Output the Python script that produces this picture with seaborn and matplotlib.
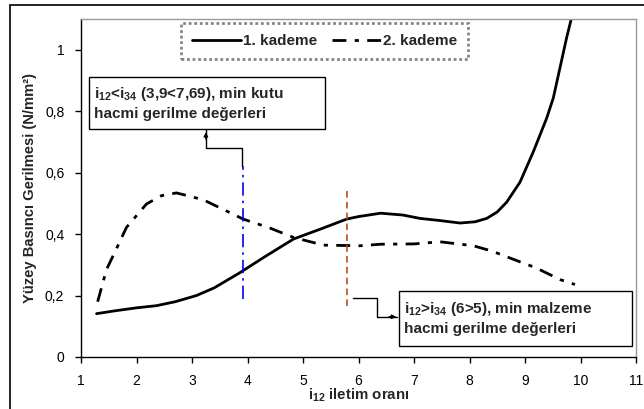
import matplotlib
matplotlib.use("Agg")
import matplotlib.pyplot as plt
import seaborn as sns
import pandas as pd
from matplotlib.patches import Rectangle

# ---- data ----
x_k1 = [1.28, 1.6, 2.0, 2.36, 2.7, 3.08, 3.4, 3.86, 4.3, 4.83, 5.31, 5.79, 6.0, 6.4, 6.8, 7.11, 7.47, 7.83,
        8.1, 8.31, 8.5, 8.67, 8.91, 9.15, 9.39, 9.51, 9.63, 9.75, 9.84, 9.9]
y_k1 = [0.141, 0.15, 0.16, 0.167, 0.18, 0.20, 0.225, 0.274, 0.325, 0.384, 0.416, 0.449, 0.457, 0.468, 0.462,
        0.451, 0.444, 0.436, 0.44, 0.451, 0.472, 0.504, 0.569, 0.668, 0.777, 0.843, 0.941, 1.039, 1.105, 1.15]
x_k2 = [1.3, 1.46, 1.58, 1.82, 2.18, 2.45, 2.72, 3.2, 3.92, 4.4, 4.83, 5.37, 6.03, 6.4, 7.0, 7.47, 8.07, 8.4,
        8.79, 9.2, 9.63, 9.9]
y_k2 = [0.18, 0.285, 0.33, 0.422, 0.498, 0.525, 0.534, 0.512, 0.449, 0.42, 0.389, 0.364, 0.362, 0.367, 0.368,
        0.375, 0.362, 0.345, 0.318, 0.29, 0.252, 0.236]
series_names = ["1. kademe", "2. kademe"]
vline_blue_x = [3.92, 3.92]
vline_blue_y = [0.19, 0.62]
vline_brown_x = [5.79, 5.79]
vline_brown_y = [0.165, 0.542]
x_ticks = [1, 2, 3, 4, 5, 6, 7, 8, 9, 10, 11]
y_ticks = [0, 0.2, 0.4, 0.6, 0.8, 1.0]
y_tick_labels = ["0", "0,2", "0,4", "0,6", "0,8", "1"]
note1 = "i$_{12}$<i$_{34}$ (3,9<7,69), min kutu\nhacmi gerilme değerleri"
note2 = "i$_{12}$>i$_{34}$ (6>5), min malzeme\nhacmi gerilme değerleri"
x_label = "i$_{12}$ iletim oranı"
y_label = "Yüzey Basıncı Gerilmesi (N/mm²)"

sns.set_style("ticks")
plt.rcParams['font.family'] = ['Liberation Sans', 'DejaVu Sans']
plt.rcParams['mathtext.fontset'] = 'custom'
plt.rcParams['mathtext.rm'] = 'Liberation Sans:bold'
plt.rcParams['mathtext.it'] = 'Liberation Sans:bold'
plt.rcParams['mathtext.bf'] = 'Liberation Sans:bold'

fig = plt.figure(figsize=(6.44, 4.09), dpi=100)
fig.patches.append(Rectangle((10/644, -0.1), 1.2, 1 - 5/409 + 0.1, transform=fig.transFigure,
                             fill=False, edgecolor='black', linewidth=1.2))
ax = fig.add_axes([81/644, 52/409, 555/644, 338/409])

df1 = pd.DataFrame({"x": x_k1, "y": y_k1})
df2 = pd.DataFrame({"x": x_k2, "y": y_k2})
sns.lineplot(data=df1, x="x", y="y", ax=ax, color='black', linewidth=2, sort=False, label=series_names[0])
sns.lineplot(data=df2, x="x", y="y", ax=ax, color='black', linewidth=2, sort=False, label=series_names[1],
             dashes=False)
ax.lines[1].set_dashes([5, 3, 1.5, 3])

ax.plot(vline_blue_x, vline_blue_y, color='#0000FF', linewidth=1.2, dashes=[8, 3, 1.5, 3])
ax.plot(vline_brown_x, vline_brown_y, color='#B5521A', linewidth=1.2, dashes=[4, 2.5])

ax.set_xlim(1, 11)
ax.set_ylim(0, 1.1)
ax.set_xticks(x_ticks)
ax.set_xticklabels([str(t) for t in x_ticks], fontsize=10)
ax.set_yticks(y_ticks)
ax.set_yticklabels(y_tick_labels, fontsize=10)
ax.tick_params(direction='out', length=4, width=1, colors='black')
ax.tick_params(axis='x', pad=8)
ax.tick_params(axis='y', pad=8)
for s in ['left', 'bottom']:
    ax.spines[s].set_color('black')
    ax.spines[s].set_linewidth(1)
for s in ['top', 'right']:
    ax.spines[s].set_visible(True)
    ax.spines[s].set_color('#999999')
    ax.spines[s].set_linewidth(1)

ax.set_xlabel(x_label, fontsize=10.8, fontweight='bold', labelpad=-1)
ax.set_ylabel(y_label, fontsize=10.6, fontweight='bold', labelpad=6)

leg = ax.legend(loc='center', bbox_to_anchor=(0.439, 0.935), ncol=2,
                prop={'weight': 'bold', 'size': 11}, handlelength=3.2, columnspacing=1.0,
                frameon=True, fancybox=False, borderpad=0.75, handletextpad=0.1)
leg.get_frame().set_edgecolor('#666666')
leg.get_frame().set_linewidth(2)
leg.get_frame().set_linestyle((0, (1, 1)))

# annotation boxes
ax.add_patch(Rectangle((1.144, 0.741), 4.256, 0.17, fill=True, facecolor='white', edgecolor='black',
                       linewidth=1, zorder=5))
ax.text(1.23, 0.826, note1, fontsize=11, fontweight='bold', va='center', ha='left', zorder=6,
        linespacing=1.4)
ax.plot([3.90, 3.90, 3.25, 3.25], [0.62, 0.679, 0.679, 0.745], color='black', linewidth=1, zorder=4)
ax.annotate("", xy=(3.25, 0.741), xytext=(3.25, 0.70),
            arrowprops=dict(arrowstyle='-|>', color='black', lw=1, mutation_scale=6), zorder=4)

ax.add_patch(Rectangle((6.73, 0.036), 4.2, 0.18, fill=True, facecolor='white', edgecolor='black',
                       linewidth=1, zorder=5))
ax.text(6.82, 0.126, note2, fontsize=11, fontweight='bold', va='center', ha='left', zorder=6,
        linespacing=1.4)
ax.plot([5.90, 6.33, 6.33, 6.70], [0.193, 0.193, 0.131, 0.131], color='black', linewidth=1, zorder=4)
ax.annotate("", xy=(6.73, 0.131), xytext=(6.5, 0.131),
            arrowprops=dict(arrowstyle='-|>', color='black', lw=1, mutation_scale=6), zorder=4)

fig.savefig("out.png", dpi=100)
